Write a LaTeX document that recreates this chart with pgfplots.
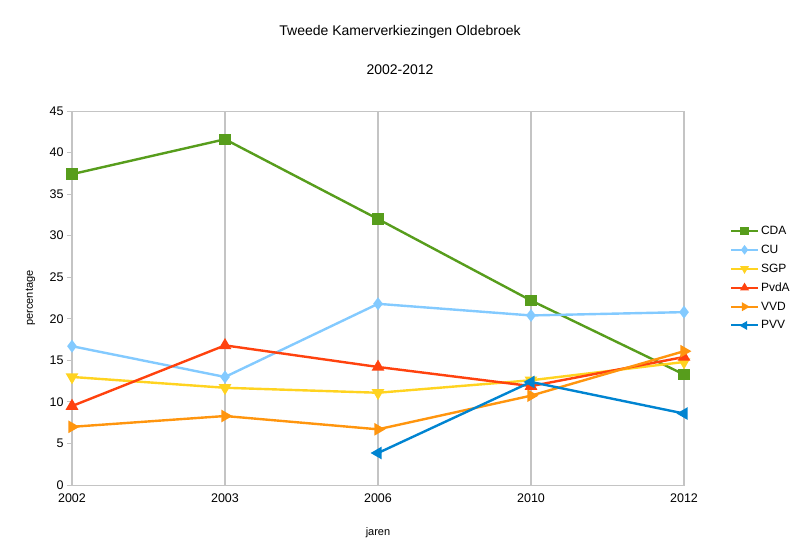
\documentclass[border=0pt]{standalone}
\usepackage{fontspec}
\setmainfont{Liberation Sans}
\usepackage{pgfplots}
\pgfplotsset{compat=1.18}
\definecolor{cda}{HTML}{579D1C}
\definecolor{cu}{HTML}{83CAFF}
\definecolor{sgp}{HTML}{FFD320}
\definecolor{pvda}{HTML}{FF420E}
\definecolor{vvd}{HTML}{FF950E}
\definecolor{pvv}{HTML}{0084D1}
\definecolor{gridgray}{HTML}{C4C4C4}

\begin{document}
\begin{tikzpicture}[x=1pt,y=1pt]
\useasboundingbox (0,0) rectangle (800,550);
\node[font=\fontsize{14}{16}\selectfont] at (400,518) {Tweede Kamerverkiezingen Oldebroek};
\node[font=\fontsize{14}{16}\selectfont] at (400,480) {2002-2012};
\begin{axis}[
  at={(72pt,65pt)}, anchor=south west,
  scale only axis, width=612pt, height=374pt,
  xmin=0, xmax=4, ymin=0, ymax=45,
  xtick={0,1,2,3,4}, xticklabels={2002,2003,2006,2010,2012},
  ytick distance=5, ytick pos=left,
  xmajorgrids, major grid style={gridgray, line width=1.5pt},
  axis line style={gridgray, line width=1pt},
  tick style={gridgray, line width=1pt},
  tick align=outside, major tick length=5pt,
  xtick style={draw=none},
  ticklabel style={font=\fontsize{12.5}{14}\selectfont},
  /pgf/number format/assume math mode=true,
  xlabel={jaren}, ylabel={percentage},
  label style={font=\fontsize{11}{13}\selectfont},
  xlabel style={at={(0.5,-0.128)}, anchor=center},
  ylabel style={at={(-0.068,0.5)}, anchor=center},
  clip=false,
  legend style={at={(1.07,0.553)}, anchor=west, draw=none, fill=none,
    font=\fontsize{12}{14}\selectfont, row sep=9pt,
    nodes={inner xsep=2pt, inner ysep=0pt}},
  legend cell align=left,
  legend image code/.code={\draw[mark repeat=2,mark phase=2,#1,line width=2pt,mark size=3.2pt]
    plot coordinates {(0pt,0pt) (13.5pt,0pt) (27pt,0pt)};},
  every axis plot/.append style={line width=2.4pt},
]
\addplot[cda, mark=square*, mark size=4.5pt] coordinates {(0,37.4) (1,41.6) (2,32.0) (3,22.2) (4,13.3)};
\addplot[cu, mark=diamond*, mark size=4.5pt] coordinates {(0,16.7) (1,13.0) (2,21.8) (3,20.4) (4,20.8)};
\addplot[sgp, mark=triangle*, mark options={rotate=180}, mark size=5pt] coordinates {(0,13.0) (1,11.7) (2,11.1) (3,12.6) (4,14.8)};
\addplot[pvda, mark=triangle*, mark size=5pt] coordinates {(0,9.5) (1,16.8) (2,14.2) (3,11.9) (4,15.4)};
\addplot[vvd, mark=triangle*, mark options={rotate=-90}, mark size=5pt] coordinates {(0,7.0) (1,8.3) (2,6.7) (3,10.75) (4,16.1)};
\addplot[pvv, mark=triangle*, mark options={rotate=90}, mark size=5pt] coordinates {(2,3.85) (3,12.4) (4,8.6)};
\legend{CDA,CU,SGP,PvdA,VVD,PVV}
\end{axis}
\end{tikzpicture}
\end{document}
